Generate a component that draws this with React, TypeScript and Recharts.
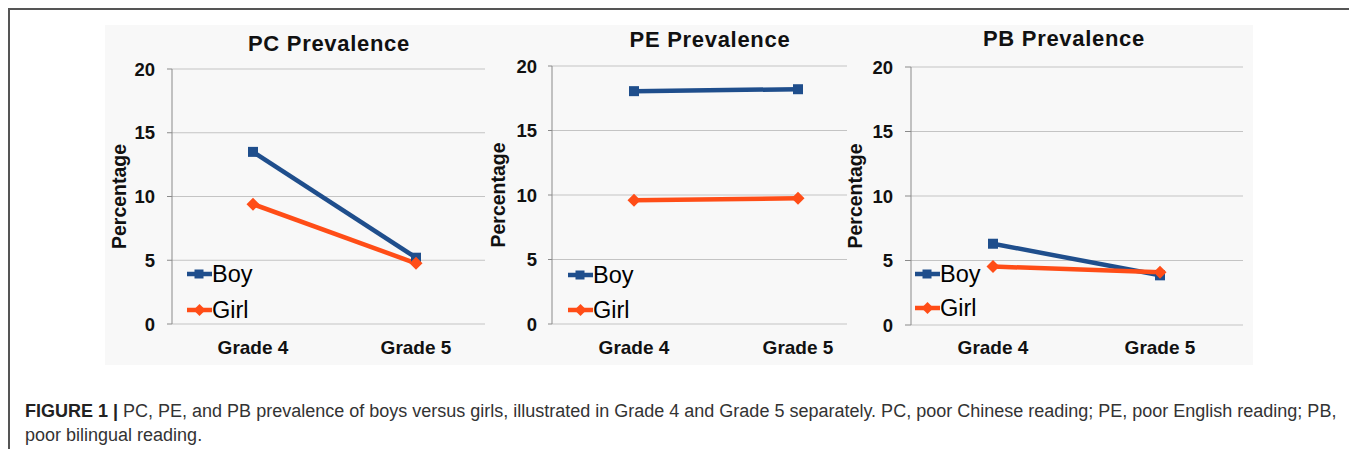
import React from 'react';
import { LineChart, Line, XAxis, YAxis, CartesianGrid, Legend } from 'recharts';

// ---- data ----
const grades = ['Grade 4', 'Grade 5'];
const pcBoy = [13.5, 5.2];
const pcGirl = [9.4, 4.76];
const peBoy = [18.05, 18.2];
const peGirl = [9.6, 9.75];
const pbBoy = [6.3, 3.85];
const pbGirl = [4.53, 4.08];
const yTicks = [0, 5, 10, 15, 20];
const titles = ['PC Prevalence', 'PE Prevalence', 'PB Prevalence'];
const seriesNames = ['Boy', 'Girl'];
const yLabel = 'Percentage';
const captionBold = 'FIGURE 1 |';
const captionLine1 = ' PC, PE, and PB prevalence of boys versus girls, illustrated in Grade 4 and Grade 5 separately. PC, poor Chinese reading; PE, poor English reading; PB,';
const captionLine2 = 'poor bilingual reading.';

const BOY = '#1F4E8C';
const GIRL = '#FF4D17';
const FONT = 'Arial, "Liberation Sans", sans-serif';

const build = (boy: number[], girl: number[]) =>
  grades.map((g, i) => ({ grade: g, [seriesNames[0]]: boy[i], [seriesNames[1]]: girl[i] }));

const panels = [
  {
    data: build(pcBoy, pcGirl), title: titles[0],
    left: 92, width: 395, margin: { top: 49, right: 10, bottom: 16, left: 12 },
    pad: { left: 81, right: 69 }, ySize: 5, yMargin: 12, xMargin: 11, labelOffset: 7,
    titleCx: 321, titleTop: 25, legLeft: 87, legTop: 237, legGap: 36,
  },
  {
    data: build(peBoy, peGirl), title: titles[1],
    left: 472, width: 377, margin: { top: 46, right: 10, bottom: 16, left: 12 },
    pad: { left: 82, right: 49 }, ySize: 4, yMargin: 11, xMargin: 11, labelOffset: 6,
    titleCx: 702, titleTop: 20.5, legLeft: 88, legTop: 238, legGap: 35,
  },
  {
    data: build(pbBoy, pbGirl), title: titles[2],
    left: 832, width: 413, margin: { top: 47, right: 10, bottom: 15, left: 11 },
    pad: { left: 82, right: 83 }, ySize: 6, yMargin: 12, xMargin: 10, labelOffset: 4,
    titleCx: 1056, titleTop: 20, legLeft: 75, legTop: 237, legGap: 34,
  },
];

const BoyDot = (p: any) => {
  const { cx, cy, index } = p;
  if (cx == null || cy == null) return <g key={`b-${index}`} />;
  return <rect key={`b-${index}`} x={cx - 5} y={cy - 5} width={10} height={10} fill={BOY} />;
};
const GirlDot = (p: any) => {
  const { cx, cy, index } = p;
  if (cx == null || cy == null) return <g key={`g-${index}`} />;
  return (
    <polygon
      key={`g-${index}`}
      points={`${cx},${cy - 6.5} ${cx + 6.5},${cy} ${cx},${cy + 6.5} ${cx - 6.5},${cy}`}
      fill={GIRL}
    />
  );
};

const makeLegend = (gap: number) => (props: any) => {
  const payload = props.payload || [];
  return (
    <div style={{ position: 'relative', width: 80, height: gap + 34 }}>
      {payload.map((item: any, i: number) => (
        <div
          key={item.value}
          style={{ position: 'absolute', left: 0, top: i * gap, height: 34, display: 'flex', alignItems: 'center' }}
        >
          <svg width={25} height={34} style={{ display: 'block' }}>
            <line x1={0} y1={17} x2={25} y2={17} stroke={item.color} strokeWidth={4.5} />
            {i === 0 ? (
              <rect x={7.5} y={12.5} width={9} height={9} fill={item.color} />
            ) : (
              <polygon points="12.5,11 18.5,17 12.5,23 6.5,17" fill={item.color} />
            )}
          </svg>
          <span style={{ fontFamily: FONT, fontSize: 23.5, lineHeight: '34px', color: '#000', whiteSpace: 'nowrap' }}>
            {item.value}
          </span>
        </div>
      ))}
    </div>
  );
};

export default function App() {
  return (
    <div style={{ position: 'relative', width: 1341, height: 441, fontFamily: FONT }}>
      <div
        style={{
          position: 'absolute', left: 0, top: 0, width: 1344, height: 447,
          borderTop: '2px solid #555', borderLeft: '2px solid #555', borderRight: '2px solid #555',
        }}
      />
      <div style={{ position: 'absolute', left: 97, top: 17, width: 1148, height: 340, background: '#f8f8f8' }} />
      {panels.map((p) => (
        <React.Fragment key={p.title}>
          <div
            style={{
              position: 'absolute', left: p.titleCx - 150, top: p.titleTop, width: 300, textAlign: 'center',
              fontSize: 22, lineHeight: '22px', fontWeight: 'bold', letterSpacing: 0.7, color: '#111', whiteSpace: 'nowrap',
            }}
          >
            {p.title}
          </div>
          <div style={{ position: 'absolute', left: p.left, top: 12 }}>
            <LineChart width={p.width} height={350} data={p.data} margin={p.margin}>
              <CartesianGrid vertical={false} stroke="#c4c4c4" strokeWidth={1} />
              <XAxis
                dataKey="grade"
                padding={p.pad}
                axisLine={false}
                tickLine={false}
                tickSize={6}
                tickMargin={p.xMargin}
                height={30}
                interval={0}
                tick={{ fontFamily: FONT, fontSize: 19, fontWeight: 'bold', fill: '#111' }}
              />
              <YAxis
                domain={[0, 20]}
                ticks={yTicks}
                width={60}
                axisLine={{ stroke: '#8a8a8a', strokeWidth: 1 }}
                tickLine={{ stroke: '#8a8a8a', strokeWidth: 1 }}
                tickSize={p.ySize}
                tickMargin={p.yMargin}
                tick={{ fontFamily: FONT, fontSize: 18.5, fontWeight: 'bold', fill: '#111' }}
                label={{
                  value: yLabel,
                  angle: -90,
                  position: 'insideLeft',
                  offset: p.labelOffset,
                  style: { textAnchor: 'middle', fontFamily: FONT, fontSize: 19.5, fontWeight: 'bold', fill: '#111' },
                }}
              />
              <Legend
                layout="horizontal"
                verticalAlign="middle"
                align="center"
                content={makeLegend(p.legGap)}
                wrapperStyle={{ left: p.legLeft, top: p.legTop, width: 90, height: p.legGap + 34 }}
              />
              <Line
                dataKey={seriesNames[0]}
                stroke={BOY}
                strokeWidth={4.5}
                dot={BoyDot}
                activeDot={false}
                isAnimationActive={false}
              />
              <Line
                dataKey={seriesNames[1]}
                stroke={GIRL}
                strokeWidth={4.5}
                dot={GirlDot}
                activeDot={false}
                isAnimationActive={false}
              />
            </LineChart>
          </div>
        </React.Fragment>
      ))}
      <div
        style={{
          position: 'absolute', left: 17, top: 391, fontSize: 18, lineHeight: '24px', color: '#333', whiteSpace: 'nowrap',
        }}
      >
        <span style={{ fontWeight: 'bold', color: '#222' }}>{captionBold}</span>
        {captionLine1}
        <br />
        {captionLine2}
      </div>
    </div>
  );
}
